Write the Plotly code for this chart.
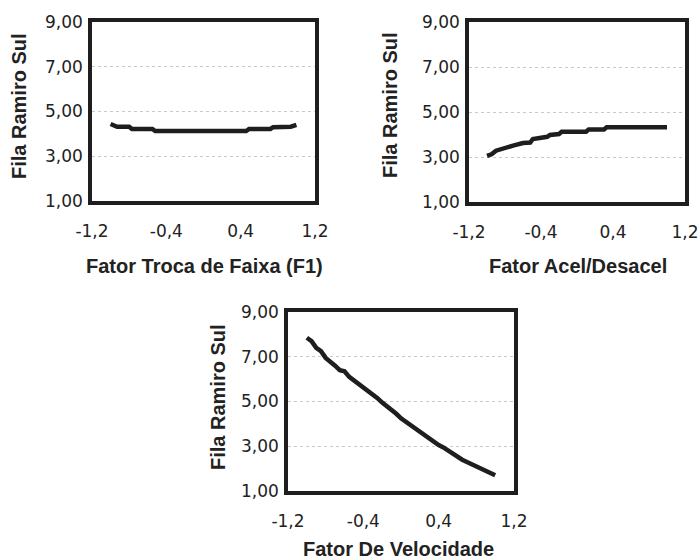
import plotly.graph_objects as go

# ---- data ----
f1_x = [-1.0, -0.96, -0.93, -0.80, -0.77, -0.55, -0.52, 0.0, 0.46, 0.49, 0.72, 0.75, 0.94, 1.0]
f1_y = [4.44, 4.36, 4.32, 4.32, 4.22, 4.22, 4.13, 4.13, 4.13, 4.22, 4.22, 4.30, 4.32, 4.40]

acel_x = [-1.0, -0.95, -0.90, -0.85, -0.78, -0.70, -0.60, -0.52, -0.49, -0.40, -0.33, -0.30, -0.20, -0.17, 0.0, 0.10, 0.13, 0.30, 0.33, 0.60, 1.0]
acel_y = [3.05, 3.12, 3.28, 3.35, 3.45, 3.52, 3.62, 3.64, 3.80, 3.85, 3.90, 3.98, 4.02, 4.12, 4.12, 4.12, 4.22, 4.22, 4.32, 4.32, 4.32]

vel_x = [-1.0, -0.95, -0.90, -0.85, -0.80, -0.75, -0.70, -0.65, -0.60, -0.55, -0.50, -0.45, -0.40, -0.35,
         -0.30, -0.25, -0.20, -0.15, -0.10, -0.05, 0.0, 0.05, 0.10, 0.15, 0.20, 0.25, 0.30, 0.35, 0.40,
         0.45, 0.50, 0.55, 0.60, 0.65, 0.70, 0.75, 0.80, 0.85, 0.90, 0.95, 1.0]
vel_y = [7.85, 7.70, 7.40, 7.25, 6.95, 6.80, 6.60, 6.40, 6.35, 6.10, 5.95, 5.80, 5.65, 5.45,
         5.30, 5.15, 4.95, 4.80, 4.60, 4.45, 4.25, 4.10, 3.95, 3.75, 3.60, 3.50, 3.35, 3.20, 3.05,
         2.95, 2.80, 2.65, 2.50, 2.40, 2.30, 2.20, 2.05, 1.95, 1.88, 1.80, 1.70]

x_tickvals = [-1.2, -0.4, 0.4, 1.2]
x_ticktext = ["-1,2", "-0,4", "0,4", "1,2"]
y_tickvals = [1, 3, 5, 7, 9]
y_ticktext = ["1,00", "3,00", "5,00", "7,00", "9,00"]

y_title = "Fila Ramiro Sul"
x_titles = ["Fator Troca de Faixa (F1)", "Fator Acel/Desacel", "Fator De Velocidade"]

W, H = 700, 560
# plot boxes in pixels (left, right, top, bottom)
boxes = [(92, 315, 22, 201), (469, 685, 22, 202), (288, 514, 312, 491)]

LINE = "#1e1e1e"
tickfont = dict(family="DejaVu Sans", size=17, color="#222")
titlefont = dict(family="Liberation Sans, Arial", size=20, color="#222")

fig = go.Figure()
series = [(f1_x, f1_y), (acel_x, acel_y), (vel_x, vel_y)]
for i, (xs, ys) in enumerate(series):
    suffix = "" if i == 0 else str(i + 1)
    fig.add_trace(go.Scatter(x=xs, y=ys, mode="lines",
                             line=dict(color=LINE, width=4.5),
                             xaxis="x" + suffix, yaxis="y" + suffix,
                             showlegend=False, hoverinfo="skip"))
    l, r, t, b = boxes[i]
    xa = dict(domain=[l / W, r / W], range=[-1.2, 1.2], anchor="y" + suffix,
              tickvals=x_tickvals, ticktext=x_ticktext, tickfont=tickfont,
              showgrid=False, zeroline=False, showline=True, mirror=True,
              linecolor=LINE, linewidth=3.5, ticks="outside", ticklen=12,
              tickcolor="rgba(0,0,0,0)", automargin=False)
    ya = dict(domain=[1 - b / H, 1 - t / H], range=[1, 9], anchor="x" + suffix,
              tickvals=y_tickvals, ticktext=y_ticktext, tickfont=tickfont,
              showgrid=True, gridcolor="#c8c8c8", griddash="dot", gridwidth=1,
              zeroline=False, showline=True, mirror=True,
              linecolor=LINE, linewidth=3.5, ticks="outside", ticklen=2,
              tickcolor="rgba(0,0,0,0)", automargin=False)
    fig.layout["xaxis" + suffix] = xa
    fig.layout["yaxis" + suffix] = ya

# axis titles as annotations (pixel positions converted to paper coords)
xtitle_pos = [(204, 266), (578, 266), (398, 549)]
ytitle_pos = [(19, 106), (390, 105), (218, 397)]
for i in range(3):
    xp, yp = xtitle_pos[i]
    fig.add_annotation(x=xp / W, y=1 - yp / H, xref="paper", yref="paper",
                       text="<b>" + x_titles[i] + "</b>", showarrow=False,
                       font=titlefont, xanchor="center", yanchor="middle")
    xp, yp = ytitle_pos[i]
    fig.add_annotation(x=xp / W, y=1 - yp / H, xref="paper", yref="paper",
                       text="<b>" + y_title + "</b>", showarrow=False, textangle=-90,
                       font=titlefont, xanchor="center", yanchor="middle")

fig.update_layout(width=W, height=H, margin=dict(l=0, r=0, t=0, b=0, autoexpand=False),
                  paper_bgcolor="white", plot_bgcolor="white")

fig.write_html("out.html", config={"displayModeBar": False},
               post_script="document.body.style.margin='0px';"
                           "document.documentElement.style.overflow='hidden';")
